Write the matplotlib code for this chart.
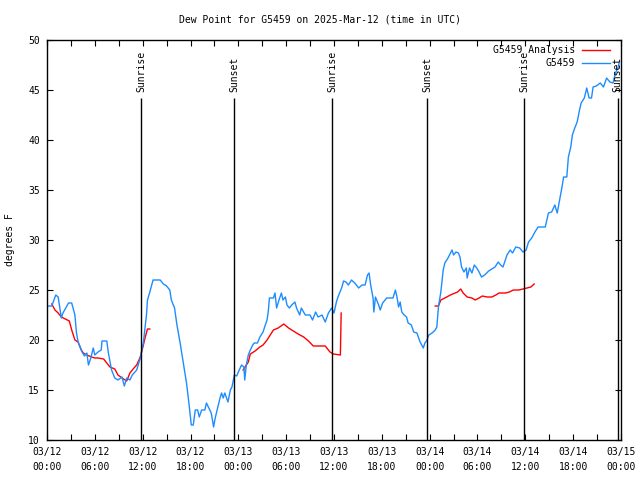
import numpy as np
import matplotlib
matplotlib.use('Agg')
from matplotlib import pyplot as plt
from matplotlib.lines import Line2D

# hours since 2025-03-12 00:00 UTC
obs_hours = [0.0, 0.6, 1.1, 1.4, 1.8, 2.0, 2.7, 3.1, 3.5, 3.7, 3.9, 4.4, 4.7, 5.0, 5.2, 5.5,
             5.8, 6.0, 6.4, 6.8, 6.9, 7.5, 7.7, 8.1, 8.5, 8.9, 9.4, 9.7, 10.0, 10.4, 10.7,
             11.25, 11.7, 12.1, 12.5, 12.6, 12.9, 13.3, 14.2, 14.6, 15.0, 15.4, 15.6, 16.0,
             16.3, 16.7, 17.1, 17.5, 17.8, 18.1, 18.35, 18.6, 18.9, 19.1, 19.4, 19.8, 20.0,
             20.3, 20.6, 20.9, 21.1, 21.4, 21.7, 21.9, 22.1, 22.3, 22.7, 23.0, 23.2, 23.5,
             23.8, 24.0, 24.4, 24.7, 24.8, 25.0, 25.25, 25.5, 25.8, 26.0, 26.4, 26.7, 27.1,
             27.3, 27.6, 27.75, 27.9, 28.4, 28.6, 28.8, 29.1, 29.4, 29.6, 29.9, 30.1, 30.4,
             30.7, 31.1, 31.3, 31.7, 31.9, 32.4, 33.0, 33.3, 33.7, 34.0, 34.5, 34.9, 35.3,
             35.7, 36.0, 36.3, 36.5, 37.0, 37.2, 37.5, 37.8, 38.2, 38.6, 39.1, 39.5, 39.9,
             40.2, 40.4, 40.6, 40.9, 41.0, 41.2, 41.6, 41.8, 42.1, 42.6, 43.4, 43.7, 43.9,
             44.1, 44.3, 44.5, 44.8, 45.1, 45.3, 45.7, 46.0, 46.4, 46.8, 47.0, 47.2, 47.4,
             47.6, 47.9, 48.3, 48.7, 48.9, 49.1, 49.4, 49.7, 49.9, 50.3, 50.8, 51.0, 51.3,
             51.6, 51.8, 52.0, 52.3, 52.6, 52.7, 53.0, 53.3, 53.6, 53.9, 54.2, 54.5, 54.9,
             55.4, 55.8, 56.2, 56.6, 56.9, 57.2, 57.7, 58.1, 58.4, 58.8, 59.3, 59.7, 60.1,
             60.4, 60.8, 61.2, 61.6, 62.5, 62.9, 63.3, 63.7, 64.0, 64.3, 64.6, 64.8, 65.2,
             65.4, 65.7, 65.9, 66.2, 66.5, 66.8, 67.0, 67.4, 67.7, 68.0, 68.3, 68.5, 68.9,
             69.4, 69.8, 70.2, 70.6, 71.0, 71.3, 71.6, 71.8]
obs_dewp = [23.4, 23.4, 24.5, 24.3, 22.2, 22.7, 23.7, 23.7, 22.5, 20.7, 19.8, 18.8, 18.4, 18.7,
            17.5, 18.2, 19.2, 18.5, 18.8, 19.0, 19.9, 19.9, 18.7, 17.0, 16.2, 16.0, 16.3, 15.4,
            16.2, 16.0, 16.5, 17.0, 18.2, 19.8, 22.7, 24.0, 24.8, 26.0, 26.0, 25.6, 25.4, 25.0,
            24.0, 23.2, 21.5, 19.7, 17.7, 15.7, 13.7, 11.5, 11.5, 13.0, 13.0, 12.3, 13.0, 13.0,
            13.7, 13.2, 12.7, 11.3, 12.2, 13.2, 14.2, 14.7, 14.2, 14.7, 13.8, 15.0, 15.3, 16.5,
            16.4, 16.8, 17.5, 17.3, 16.0, 17.5, 18.5, 19.0, 19.5, 19.7, 19.7, 20.3, 20.8, 21.3,
            22.0, 22.8, 24.2, 24.2, 24.7, 23.2, 24.0, 24.7, 24.0, 24.3, 23.5, 23.2, 23.5, 23.8,
            23.2, 22.5, 23.2, 22.5, 22.5, 22.0, 22.8, 22.3, 22.5, 21.8, 22.7, 23.2, 22.7, 23.8,
            24.3, 25.3, 25.9, 25.8, 25.5, 26.0, 25.7, 25.2, 25.5, 25.5, 26.5, 26.7, 25.5, 24.2,
            22.8, 24.3, 23.5, 23.0, 23.7, 24.2, 24.2, 25.0, 24.3, 23.3, 23.8, 22.8, 22.5, 22.3,
            21.7, 21.5, 20.8, 20.7, 19.8, 19.5, 19.2, 19.7, 19.9, 20.5, 20.7, 21.0, 21.3, 23.3,
            24.8, 27.0, 27.7, 28.2, 29.0, 28.5, 28.8, 28.7, 28.3, 27.3, 26.8, 27.2, 26.2, 27.2,
            26.7, 27.5, 27.2, 26.8, 26.3, 26.5, 26.9, 27.1, 27.3, 27.8, 27.5, 27.3, 28.5, 29.0,
            28.7, 29.3, 29.2, 28.8, 29.0, 29.8, 30.2, 30.8, 31.3, 31.3, 32.7, 32.8, 33.5, 32.7,
            34.0, 35.3, 36.3, 36.3, 38.3, 39.3, 40.5, 41.2, 41.8, 43.0, 43.7, 44.2, 45.2, 44.2,
            44.2, 45.3, 45.4, 45.7, 45.3, 46.2, 45.8, 45.7, 46.7, 47.2, 47.8]

# analysis series, gaps marked with nan
ana_hours = [0.6, 1.0, 1.4, 1.8, 2.3, 2.8, 3.1, 3.3, 3.5, 3.9, 4.3, 4.55, 5.0, 5.6, 6.0, 6.4,
             7.1, 7.5, 7.9, 8.5, 8.9, 9.6, 10.0, 10.4, 10.8, 11.25, 11.7, 12.0, 12.3, 12.6,
             12.9, 13.0,
             24.6, 25.25, 25.5, 26.1, 26.7, 27.1, 27.6, 28.0, 28.4, 29.0, 29.7, 30.3, 30.9,
             31.5, 32.2, 32.8, 33.4, 33.9, 34.9, 35.5, 35.9, 36.8, 36.85, 36.9, 37.0,
             48.7, 49.1, 49.4, 49.9, 50.6, 51.2, 51.5, 51.9, 52.2, 52.7, 53.3, 53.7, 54.2,
             54.6, 55.2, 55.8, 56.3, 56.7, 57.5, 58.0, 58.5, 59.2, 59.7, 60.2, 60.7, 61.1]
ana_dewp = [23.6, 23.0, 22.7, 22.3, 22.1, 21.9, 21.0, 20.5, 20.0, 19.8, 19.0, 18.7, 18.5, 18.3,
            18.2, 18.2, 18.1, 17.7, 17.3, 17.1, 16.5, 16.1, 15.9, 16.7, 17.1, 17.5, 18.3, 19.2,
            20.2, 21.1, 21.1, np.nan,
            17.0, 17.8, 18.6, 18.9, 19.3, 19.5, 20.0, 20.5, 21.0, 21.2, 21.6, 21.2, 20.9, 20.6,
            20.3, 19.9, 19.4, 19.4, 19.4, 18.8, 18.6, 18.5, 20.7, 22.7, np.nan,
            23.4, 23.4, 24.0, 24.2, 24.5, 24.7, 24.8, 25.1, 24.7, 24.3, 24.2, 24.0, 24.2, 24.4,
            24.3, 24.3, 24.5, 24.7, 24.7, 24.8, 25.0, 25.0, 25.1, 25.2, 25.3, 25.6]

sun_hours = [11.8, 23.45, 35.75, 47.67, 59.83, 71.6]
sun_labels = ['Sunrise', 'Sunset', 'Sunrise', 'Sunset', 'Sunrise', 'Sunset']

tick_hours = list(range(0, 73, 3))
day_labels = ['03/12', '03/13', '03/14', '03/15']

FONT = 'DejaVu Sans Mono'
FS = 7
plt.rcParams['font.family'] = FONT
plt.rcParams['font.size'] = FS

fig = plt.figure(figsize=(6.4, 4.8), dpi=100)
ax = fig.add_axes([47 / 640, 40 / 480, 574 / 640, 400 / 480])

ax.plot(ana_hours, ana_dewp, color='#ff0000', lw=1.0)
ax.plot(obs_hours, obs_dewp, color='#1e8cff', lw=1.0)

ax.vlines(sun_hours, 10, 44.2, color='black', lw=1.0)
for h, lab in zip(sun_hours, sun_labels):
    ax.text(h, 44.8, lab, rotation=90, ha='center', va='bottom', clip_on=False)

ax.set_xlim(0, 72)
ax.set_ylim(10, 50)
ax.set_xticks(tick_hours)
xlabels = []
for h in tick_hours:
    if h % 6 == 0:
        xlabels.append('%s\n%02d:00' % (day_labels[h // 24], h % 24))
    else:
        xlabels.append('')
ax.set_xticklabels(xlabels, linespacing=1.6)
ax.set_yticks(range(10, 51, 5))
ax.tick_params(direction='in', length=4, width=0.8, top=True, right=True, pad=5,
               labelsize=FS)
for s in ax.spines.values():
    s.set_linewidth(1.0)

# legend drawn in axes fraction
legend_items = [('G5459 Analysis', '#ff0000', 0.975), ('G5459', '#1e8cff', 0.9425)]
for lab, col, yy in legend_items:
    ax.text(0.92, yy, lab, ha='right', va='center', transform=ax.transAxes)
    ax.add_line(Line2D([0.932, 0.981], [yy, yy], color=col, lw=1.0,
                       transform=ax.transAxes))

fig.text(0.5, 1 - 19 / 480, 'Dew Point for G5459 on 2025-Mar-12 (time in UTC)',
         ha='center', va='center')
fig.text(10 / 640, 0.5, 'degrees F', rotation=90, ha='center', va='center')

fig.savefig('out.png', dpi=100)
